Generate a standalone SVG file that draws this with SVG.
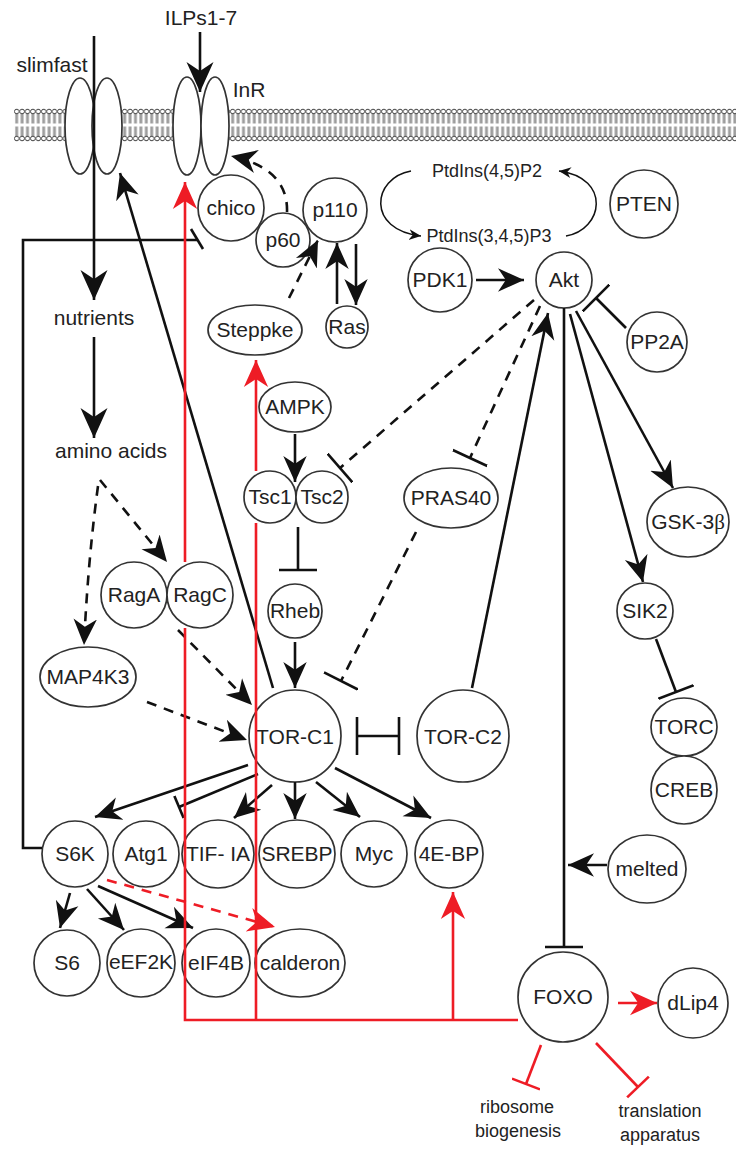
<svg xmlns="http://www.w3.org/2000/svg" width="736" height="1152" viewBox="0 0 736 1152">
<style>
.n{fill:#fff;stroke:#333;stroke-width:1.7}
.t{font-family:'Liberation Sans',Arial,sans-serif;font-size:21px;text-anchor:middle;fill:#222}
.s{font-size:18px}
.c{stroke:#111;stroke-width:2.6;fill:none}
.d{stroke-dasharray:10 8}
.r{stroke:#ee1c25}
</style>
<defs>
<pattern id="mem" x="14" y="107" width="5.4" height="36" patternUnits="userSpaceOnUse">
<circle cx="2.7" cy="4.5" r="2.3" fill="#fff" stroke="#333" stroke-width="0.9"/>
<circle cx="2.7" cy="31.5" r="2.3" fill="#fff" stroke="#333" stroke-width="0.9"/>
<path d="M1.9,7 V16.5 M3.5,7 V16.5 M1.9,19.5 V29 M3.5,19.5 V29" stroke="#444" stroke-width="0.8"/>
</pattern>
<marker id="a" viewBox="0 0 20 20" refX="20" refY="10" markerWidth="26" markerHeight="26" markerUnits="userSpaceOnUse" orient="auto"><path d="M0,1 L20,10 L0,19 L6,10 Z" fill="#111"/></marker>
<marker id="al" viewBox="0 0 20 20" refX="20" refY="10" markerWidth="30" markerHeight="30" markerUnits="userSpaceOnUse" orient="auto"><path d="M0,1 L20,10 L0,19 L6,10 Z" fill="#111"/></marker>
<marker id="as" viewBox="0 0 20 20" refX="20" refY="10" markerWidth="12" markerHeight="12" markerUnits="userSpaceOnUse" orient="auto"><path d="M0,1 L20,10 L0,19 L6,10 Z" fill="#111"/></marker>
<marker id="ar" viewBox="0 0 20 20" refX="20" refY="10" markerWidth="27" markerHeight="27" markerUnits="userSpaceOnUse" orient="auto"><path d="M0,1 L20,10 L0,19 L6,10 Z" fill="#ee1c25"/></marker>
<marker id="b" viewBox="-2 -19 4 38" refX="0" refY="0" markerWidth="4" markerHeight="38" markerUnits="userSpaceOnUse" orient="auto"><path d="M0,-19 V19" stroke="#111" stroke-width="2.6"/></marker>
<marker id="bs" viewBox="-2 -12 4 24" refX="0" refY="0" markerWidth="4" markerHeight="24" markerUnits="userSpaceOnUse" orient="auto"><path d="M0,-12 V12" stroke="#111" stroke-width="2.6"/></marker>
<marker id="br" viewBox="-2 -15 4 30" refX="0" refY="0" markerWidth="4" markerHeight="30" markerUnits="userSpaceOnUse" orient="auto"><path d="M0,-15 V15" stroke="#ee1c25" stroke-width="2.6"/></marker>
</defs>
<rect width="736" height="1152" fill="#fff"/>
<rect id="membrane" x="14" y="107" width="722" height="36" fill="url(#mem)"/>

<g id="slimfast"><ellipse class="n" cx="80" cy="126" rx="15" ry="48"/><ellipse class="n" cx="107" cy="126" rx="15" ry="48"/><text class="t" x="52" y="72">slimfast</text></g>
<g id="InR"><ellipse class="n" cx="187" cy="126" rx="14" ry="49"/><ellipse class="n" cx="215" cy="126" rx="14" ry="49"/><text class="t" x="249" y="97">InR</text></g>
<g id="ILPs"><text class="t" x="201" y="25">ILPs1-7</text></g>
<g id="chico"><circle class="n" cx="231" cy="208" r="33"/><text class="t" x="231" y="215">chico</text></g>
<g id="p110"><circle class="n" cx="335" cy="210" r="32"/><text class="t" x="335" y="217">p110</text></g>
<g id="p60"><circle class="n" cx="283" cy="240" r="27"/><text class="t" x="283" y="247">p60</text></g>
<g id="Ras"><circle class="n" cx="347" cy="327" r="21"/><text class="t" x="347" y="334" font-size="19">Ras</text></g>
<g id="Steppke"><ellipse class="n" cx="255" cy="330" rx="47" ry="25"/><text class="t" x="255" y="337">Steppke</text></g>
<g id="AMPK"><ellipse class="n" cx="295" cy="407" rx="36" ry="25"/><text class="t" x="295" y="414">AMPK</text></g>
<g id="Tsc1"><circle class="n" cx="270" cy="497" r="26"/><text class="t" x="270" y="504" font-size="19">Tsc1</text></g>
<g id="Tsc2"><circle class="n" cx="322" cy="497" r="26"/><text class="t" x="322" y="504" font-size="19">Tsc2</text></g>
<g id="Rheb"><circle class="n" cx="295" cy="611" r="27"/><text class="t" x="295" y="618" font-size="20">Rheb</text></g>
<g id="TOR-C1"><circle class="n" cx="295" cy="736" r="46"/><text class="t" x="295" y="744">TOR-C1</text></g>
<g id="TOR-C2"><circle class="n" cx="463" cy="736" r="46"/><text class="t" x="463" y="744">TOR-C2</text></g>
<g id="RagA"><circle class="n" cx="134" cy="595" r="33"/><text class="t" x="134" y="602">RagA</text></g>
<g id="RagC"><circle class="n" cx="200" cy="595" r="33"/><text class="t" x="200" y="602">RagC</text></g>
<g id="MAP4K3"><ellipse class="n" cx="88" cy="677" rx="48" ry="30"/><text class="t" x="88" y="684">MAP4K3</text></g>
<g id="PRAS40"><ellipse class="n" cx="451" cy="498" rx="47" ry="30"/><text class="t" x="451" y="505">PRAS40</text></g>
<g id="PDK1"><circle class="n" cx="440" cy="280" r="32"/><text class="t" x="440" y="287">PDK1</text></g>
<g id="Akt"><circle class="n" cx="564" cy="280" r="28"/><text class="t" x="564" y="287">Akt</text></g>
<g id="PTEN"><circle class="n" cx="644" cy="204" r="34"/><text class="t" x="644" y="211">PTEN</text></g>
<g id="PP2A"><circle class="n" cx="657" cy="342" r="30"/><text class="t" x="657" y="349">PP2A</text></g>
<g id="PtdIns"><text class="t s" x="487" y="177">PtdIns(4,5)P2</text><text class="t s" x="489" y="242">PtdIns(3,4,5)P3</text></g>
<g id="GSK-3b"><ellipse class="n" cx="688" cy="522" rx="41" ry="35"/><text class="t" x="688" y="529">GSK-3<tspan font-family="'Liberation Serif',serif">β</tspan></text></g>
<g id="SIK2"><circle class="n" cx="645" cy="611" r="28"/><text class="t" x="645" y="618">SIK2</text></g>
<g id="TORC"><ellipse class="n" cx="684" cy="727" rx="33" ry="29"/><text class="t" x="684" y="734">TORC</text></g>
<g id="CREB"><ellipse class="n" cx="684" cy="790" rx="33" ry="34"/><text class="t" x="684" y="797">CREB</text></g>
<g id="melted"><ellipse class="n" cx="647" cy="869" rx="39" ry="34"/><text class="t" x="647" y="876">melted</text></g>
<g id="FOXO"><circle class="n" cx="563" cy="997" r="45"/><text class="t" x="563" y="1004">FOXO</text></g>
<g id="dLip4"><circle class="n" cx="693" cy="1003" r="35"/><text class="t" x="693" y="1010">dLip4</text></g>
<g id="S6K"><circle class="n" cx="75" cy="854" r="33"/><text class="t" x="75" y="861">S6K</text></g>
<g id="Atg1"><circle class="n" cx="146" cy="854" r="33"/><text class="t" x="146" y="861">Atg1</text></g>
<g id="TIF-IA"><ellipse class="n" cx="218" cy="854" rx="36" ry="34"/><text class="t" x="218" y="861">TIF- IA</text></g>
<g id="SREBP"><ellipse class="n" cx="297" cy="854" rx="38" ry="34"/><text class="t" x="297" y="861">SREBP</text></g>
<g id="Myc"><circle class="n" cx="374" cy="854" r="33"/><text class="t" x="374" y="861">Myc</text></g>
<g id="4E-BP"><circle class="n" cx="449" cy="854" r="34"/><text class="t" x="449" y="861">4E-BP</text></g>
<g id="S6"><circle class="n" cx="67" cy="963" r="33"/><text class="t" x="67" y="970">S6</text></g>
<g id="eEF2K"><circle class="n" cx="141" cy="963" r="34"/><text class="t" x="141" y="969" font-size="18">eEF2K</text></g>
<g id="eIF4B"><circle class="n" cx="216" cy="963" r="34"/><text class="t" x="216" y="970">eIF4B</text></g>
<g id="calderon"><ellipse class="n" cx="300" cy="963" rx="45" ry="34"/><text class="t" x="300" y="970">calderon</text></g>
<g id="labels-foxo"><text class="t s" x="517" y="1113">ribosome</text><text class="t s" x="518" y="1137">biogenesis</text><text class="t s" x="660" y="1117">translation</text><text class="t s" x="660" y="1141">apparatus</text></g>
<g id="nutrients"><text class="t" x="94" y="325">nutrients</text></g>
<g id="amino-acids"><text class="t" x="111" y="458">amino acids</text></g>

<g id="connectors">
<path class="c" d="M200,32 V92" marker-end="url(#al)"/>
<path class="c" d="M94,36 V300" marker-end="url(#al)"/>
<path class="c" d="M94,337 V438" marker-end="url(#al)"/>
<path class="c" d="M273,688 L120,173" marker-end="url(#a)"/>
<path class="c d" d="M287,212 C288,182 268,164 231,156" marker-end="url(#a)"/>
<path class="c d" d="M289,298 L318,240" marker-end="url(#a)"/>
<path class="c" d="M337,304 V243" marker-end="url(#a)"/>
<path class="c" d="M356,244 V305" marker-end="url(#a)"/>
<path class="c" d="M295,434 V482" marker-end="url(#a)"/>
<path class="c" d="M298,527 V570" marker-end="url(#b)"/>
<path class="c" d="M295,642 V688" marker-end="url(#a)"/>
<path class="c d" d="M100,480 L167,562" marker-end="url(#a)"/>
<path class="c d" d="M98,486 Q88,560 84,645" marker-end="url(#a)"/>
<path class="c d" d="M178,630 L252,705" marker-end="url(#a)"/>
<path class="c d" d="M147,702 L247,740" marker-end="url(#a)"/>
<path class="c d" d="M416,532 L341,681" marker-end="url(#b)"/>
<path class="c d" d="M534,300 L340,468" marker-end="url(#b)"/>
<path class="c d" d="M540,306 L470,458" marker-end="url(#b)"/>
<path class="c" d="M476,280 H524" marker-end="url(#a)"/>
<path class="c" d="M626,328 L596,298" marker-end="url(#b)"/>
<path class="c" d="M472,688 L548,313" marker-end="url(#a)"/>
<path class="c" d="M357,736 H399" marker-start="url(#b)" marker-end="url(#b)"/>
<path class="c" d="M564,308 V947" marker-end="url(#b)"/>
<path class="c" d="M607,865 H568" marker-end="url(#a)"/>
<path class="c" d="M570,314 L643,582" marker-end="url(#a)"/>
<path class="c" d="M576,311 L673,488" marker-end="url(#a)"/>
<path class="c" d="M656,639 L676,692" marker-end="url(#b)"/>
<path class="c" d="M42,848 H23 V240 H197"/>
<path class="c" d="M191,229 L203,249"/>
<path class="c" d="M248,765 L95,817" marker-end="url(#a)"/>
<path class="c" d="M258,774 L179,807" marker-end="url(#bs)"/>
<path class="c" d="M272,785 L234,818" marker-end="url(#a)"/>
<path class="c" d="M295,782 V819" marker-end="url(#a)"/>
<path class="c" d="M316,782 L360,817" marker-end="url(#a)"/>
<path class="c" d="M335,768 L431,818" marker-end="url(#a)"/>
<path class="c" d="M70,893 L60,928" marker-end="url(#a)"/>
<path class="c" d="M87,889 L124,930" marker-end="url(#a)"/>
<path class="c" d="M98,886 L193,928" marker-end="url(#a)"/>
<path class="c" style="stroke-width:1.5" d="M411,171 C372,178 366,230 421,236" marker-end="url(#as)"/>
<path class="c" style="stroke-width:1.5" d="M566,236 C603,230 612,178 559,171" marker-end="url(#as)"/>
<path class="c r" d="M518,1020 H185 V628 M185,562 V182" marker-end="url(#ar)"/>
<path class="c r" d="M256,1020 V523 M256,471 V360" marker-end="url(#ar)"/>
<path class="c r" d="M453,1020 V892" marker-end="url(#ar)"/>
<path class="c r d" d="M107,880 L275,927" marker-end="url(#ar)"/>
<path class="c r" d="M618,1003 H657" marker-end="url(#ar)"/>
<path class="c r" d="M541,1045 L526,1084" marker-end="url(#br)"/>
<path class="c r" d="M596,1043 L638,1087" marker-end="url(#br)"/>
</g>
</svg>
